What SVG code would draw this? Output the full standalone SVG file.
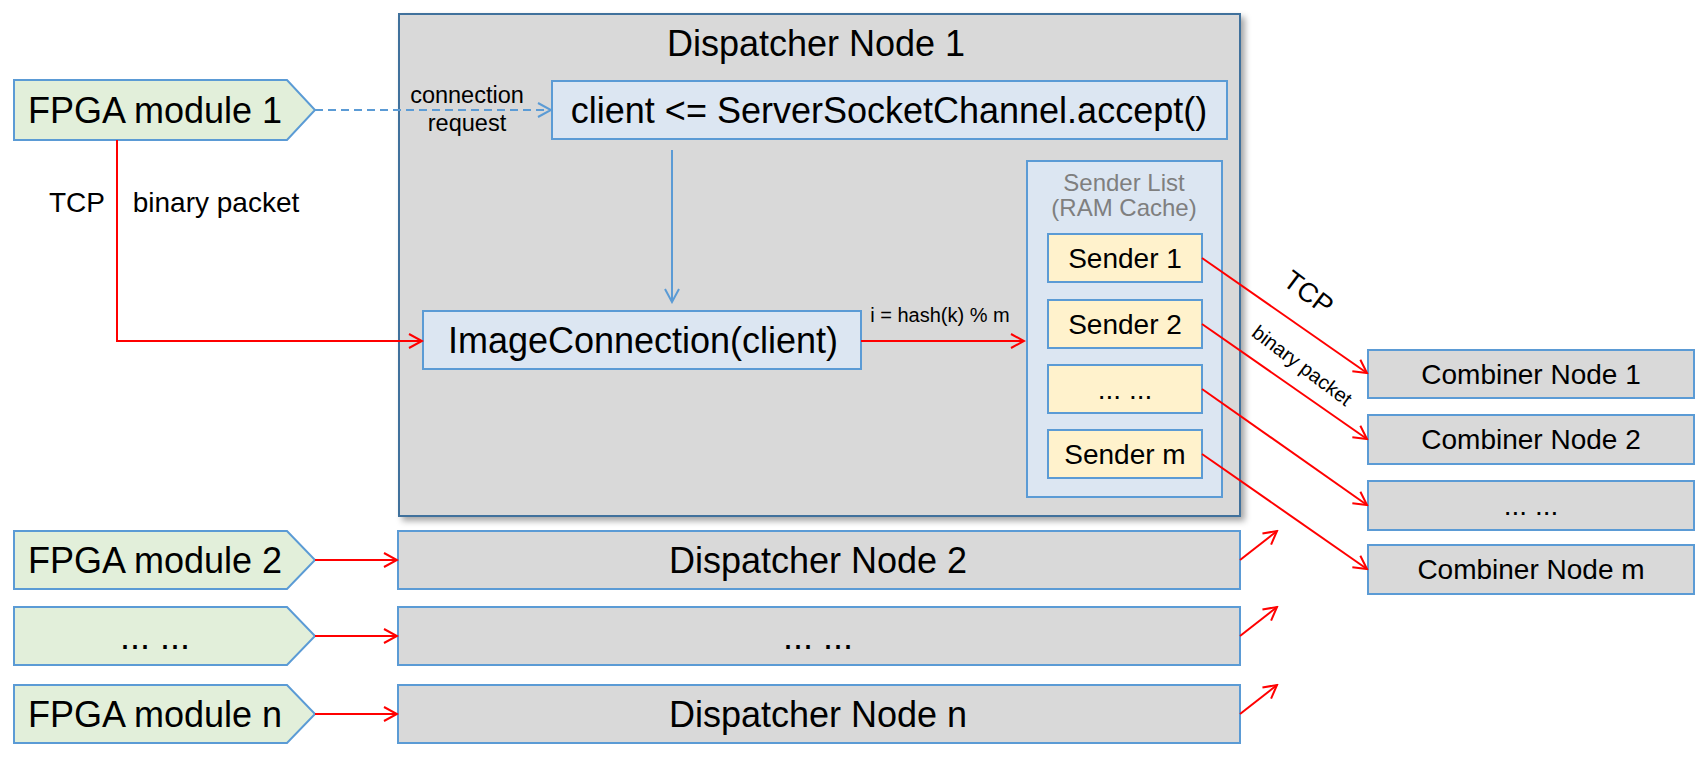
<svg xmlns="http://www.w3.org/2000/svg" width="1705" height="760" viewBox="0 0 1705 760">
<style>
text{font-family:"Liberation Sans",Arial,sans-serif;fill:#000;text-anchor:middle}
.fpga{fill:#e2efda;stroke:#5b9bd5;stroke-width:2}
.disp{fill:#d9d9d9;stroke:#5b9bd5;stroke-width:2}
.lb{fill:#dce6f2;stroke:#5b9bd5;stroke-width:2}
.snd{fill:#fff2cc;stroke:#5b9bd5;stroke-width:2}
.big{font-size:36px}
.mid{font-size:28px}
.red{fill:none;stroke:#ff0000;stroke-width:2;marker-end:url(#ar)}
.blue{fill:none;stroke:#5b9bd5;stroke-width:2;marker-end:url(#ab)}
</style>
<defs>
<marker id="ar" markerUnits="userSpaceOnUse" markerWidth="16" markerHeight="18" refX="14" refY="8" orient="auto" viewBox="0 0 16 16"><path d="M1,1 L14,8 L1,15" fill="none" stroke="#ff0000" stroke-width="2"/></marker>
<marker id="ab" markerUnits="userSpaceOnUse" markerWidth="16" markerHeight="18" refX="14" refY="8" orient="auto" viewBox="0 0 16 16"><path d="M1,1 L14,8 L1,15" fill="none" stroke="#5b9bd5" stroke-width="2"/></marker>
<filter id="sh" x="-5%" y="-5%" width="110%" height="110%"><feDropShadow dx="4" dy="4" stdDeviation="3" flood-color="#000" flood-opacity="0.35"/></filter>
</defs>

<g id="dispatcher1">
<rect x="399" y="14" width="841" height="502" fill="#d9d9d9" stroke="#41719c" stroke-width="2" filter="url(#sh)"/>
<text x="816" y="56" class="big">Dispatcher Node 1</text>
</g>
<g id="accept">
<rect class="lb" x="552" y="81" width="675" height="58"/>
<text x="889" y="123" class="big">client &lt;= ServerSocketChannel.accept()</text>
</g>
<g id="imageconn">
<rect class="lb" x="423" y="311" width="438" height="58"/>
<text x="643" y="353" class="big">ImageConnection(client)</text>
</g>
<g id="senderlist">
<rect class="lb" x="1027" y="161" width="195" height="336"/>
<text x="1124" y="191" style="font-size:24px;fill:#7f7f7f">Sender List</text>
<text x="1124" y="216" style="font-size:24px;fill:#7f7f7f">(RAM Cache)</text>
</g>
<g id="sender1"><rect class="snd" x="1048" y="234" width="154" height="48"/><text x="1125" y="268" class="mid">Sender 1</text></g>
<g id="sender2"><rect class="snd" x="1048" y="300" width="154" height="48"/><text x="1125" y="334" class="mid">Sender 2</text></g>
<g id="sender3"><rect class="snd" x="1048" y="365" width="154" height="48"/><text x="1125" y="399" class="mid">... ...</text></g>
<g id="senderm"><rect class="snd" x="1048" y="430" width="154" height="48"/><text x="1125" y="464" class="mid">Sender m</text></g>

<g id="fpga1"><path class="fpga" d="M14,80 H287 L315,110 L287,140 H14 Z"/><text x="155" y="123" class="big">FPGA module 1</text></g>
<g id="fpga2"><path class="fpga" d="M14,531 H287 L315,560 L287,589 H14 Z"/><text x="155" y="573" class="big">FPGA module 2</text></g>
<g id="fpga3"><path class="fpga" d="M14,607 H287 L315,636 L287,665 H14 Z"/><text x="155" y="649" class="big">... ...</text></g>
<g id="fpgan"><path class="fpga" d="M14,685 H287 L315,714 L287,743 H14 Z"/><text x="155" y="727" class="big">FPGA module n</text></g>

<g id="dispatcher2"><rect class="disp" x="398" y="531" width="842" height="58"/><text x="818" y="573" class="big">Dispatcher Node 2</text></g>
<g id="dispatcher3"><rect class="disp" x="398" y="607" width="842" height="58"/><text x="818" y="649" class="big">... ...</text></g>
<g id="dispatchern"><rect class="disp" x="398" y="685" width="842" height="58"/><text x="818" y="727" class="big">Dispatcher Node n</text></g>

<g id="combiner1"><rect class="disp" x="1368" y="350" width="326" height="48"/><text x="1531" y="384" class="mid">Combiner Node 1</text></g>
<g id="combiner2"><rect class="disp" x="1368" y="415" width="326" height="49"/><text x="1531" y="449" class="mid">Combiner Node 2</text></g>
<g id="combiner3"><rect class="disp" x="1368" y="481" width="326" height="49"/><text x="1531" y="515" class="mid">... ...</text></g>
<g id="combinerm"><rect class="disp" x="1368" y="545" width="326" height="49"/><text x="1531" y="579" class="mid">Combiner Node m</text></g>

<g id="connectors">
<path d="M315,110 H551" fill="none" stroke="#5b9bd5" stroke-width="2" stroke-dasharray="8,5" marker-end="url(#ab)"/>
<text x="467" y="103" style="font-size:23.5px">connection</text>
<text x="467" y="131" style="font-size:23.5px">request</text>
<path class="blue" d="M672,150 V302"/>
<path class="red" d="M117,140 V341 H422"/>
<text x="77" y="212" style="font-size:28px">TCP</text>
<text x="216" y="212" style="font-size:28px">binary packet</text>
<path class="red" d="M861,341 H1024"/>
<text x="940" y="322" style="font-size:20px">i = hash(k) % m</text>
<path class="red" d="M1202,258 L1367,373"/>
<path class="red" d="M1202,324 L1367,439"/>
<path class="red" d="M1202,389 L1367,505"/>
<path class="red" d="M1202,454 L1367,569"/>
<text x="0" y="0" style="font-size:27px" transform="translate(1303,300) rotate(37)">TCP</text>
<text x="0" y="0" style="font-size:20px" transform="translate(1298,371) rotate(37)">binary packet</text>
<path class="red" d="M315,560 H397"/>
<path class="red" d="M315,636 H397"/>
<path class="red" d="M315,714 H397"/>
<path class="red" d="M1240,560 L1277,531"/>
<path class="red" d="M1240,636 L1277,607"/>
<path class="red" d="M1240,714 L1277,685"/>
</g>
</svg>
